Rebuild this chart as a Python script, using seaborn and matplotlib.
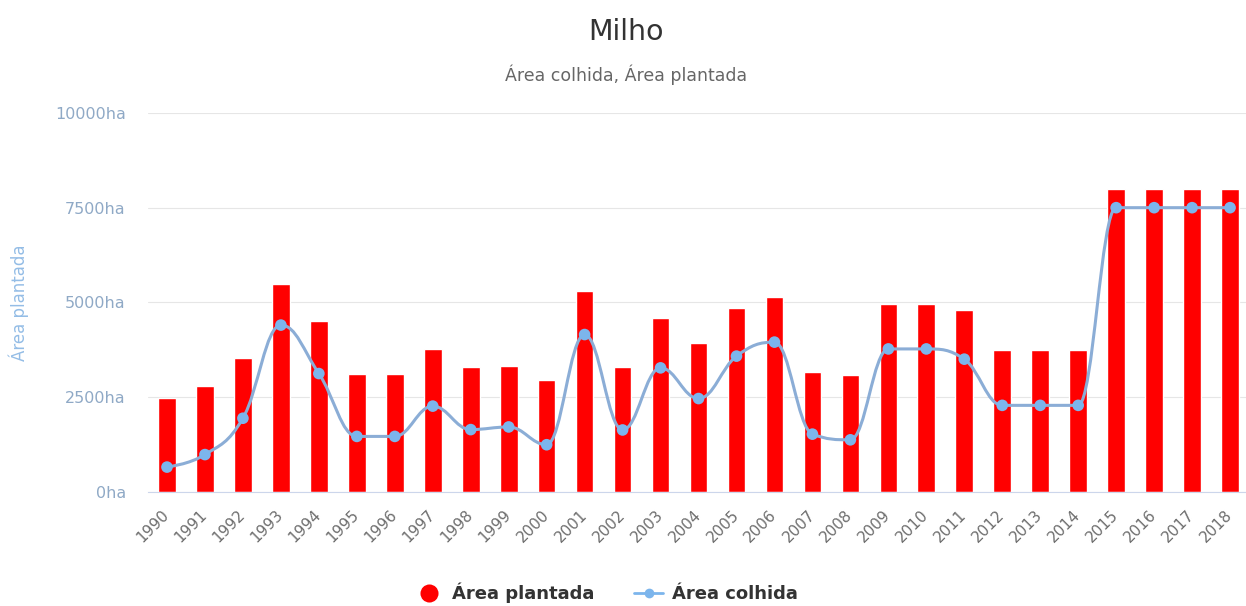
import numpy as np
import pandas as pd
import matplotlib
matplotlib.use("Agg")
import matplotlib.pyplot as plt
from matplotlib.path import Path
from matplotlib.patches import PathPatch
from matplotlib.lines import Line2D
import seaborn as sns

# dados
anos = [str(a) for a in range(1990, 2019)]
area_plantada = [2480, 2780, 3520, 5480, 4500, 3120, 3120, 3760, 3300, 3330,
                 2950, 5300, 3300, 4580, 3930, 4840, 5130, 3160, 3080, 4960,
                 4960, 4790, 3750, 3750, 3750, 8000, 8000, 8000, 8000]
area_colhida = [650, 980, 1940, 4400, 3120, 1460, 1460, 2260, 1640, 1710,
                1240, 4150, 1630, 3270, 2460, 3580, 3950, 1520, 1370, 3770,
                3770, 3500, 2280, 2280, 2280, 7500, 7500, 7500, 7500]
ticks_y = [0, 2500, 5000, 7500, 10000]

titulo = "Milho"
subtitulo = "Área colhida, Área plantada"

COR_BARRA = "#ff0000"
COR_LINHA = "#8badd6"
COR_PONTO = "#7cb5ec"


def spline_path(xs, ys, smoothing=1.5):
    """Curva suave tipo 'spline' (Bezier cúbica) passando pelos pontos."""
    n = len(xs)
    denom = smoothing + 1
    left = [(xs[i], ys[i]) for i in range(n)]
    right = [(xs[i], ys[i]) for i in range(n)]
    for i in range(1, n - 1):
        px, py = xs[i], ys[i]
        lx, ly = xs[i - 1], ys[i - 1]
        nx, ny = xs[i + 1], ys[i + 1]
        lcx = (smoothing * px + lx) / denom
        lcy = (smoothing * py + ly) / denom
        rcx = (smoothing * px + nx) / denom
        rcy = (smoothing * py + ny) / denom
        if rcx != lcx:
            corr = ((rcy - lcy) * (rcx - px)) / (rcx - lcx) + py - rcy
            lcy += corr
            rcy += corr
        if lcy > ly and lcy > py:
            lcy = max(ly, py)
            rcy = 2 * py - lcy
        elif lcy < ly and lcy < py:
            lcy = min(ly, py)
            rcy = 2 * py - lcy
        if rcy > ny and rcy > py:
            rcy = max(ny, py)
            lcy = 2 * py - rcy
        elif rcy < ny and rcy < py:
            rcy = min(ny, py)
            lcy = 2 * py - rcy
        left[i] = (lcx, lcy)
        right[i] = (rcx, rcy)
    verts = [(xs[0], ys[0])]
    codes = [Path.MOVETO]
    for i in range(1, n):
        verts += [right[i - 1], left[i], (xs[i], ys[i])]
        codes += [Path.CURVE4] * 3
    return Path(verts, codes)


df = pd.DataFrame({"ano": anos, "plantada": area_plantada, "colhida": area_colhida})

sns.set_style("white")
plt.rcParams["font.family"] = ["DejaVu Sans"]

fig = plt.figure(figsize=(12.46, 6.06), dpi=100)
W, H = 1246, 606
ax = fig.add_axes([148 / W, (H - 491.7) / H, 1098 / W, (491.7 - 113) / H])

sns.barplot(data=df, x="ano", y="plantada", color=COR_BARRA, saturation=1,
            width=0.466, ax=ax, zorder=2)

pos = np.arange(len(anos))
ax.add_patch(PathPatch(spline_path(pos, area_colhida), fill=False,
                       edgecolor=COR_LINHA, linewidth=2.2, zorder=3,
                       capstyle="round", joinstyle="round"))
sns.scatterplot(data=df, x="ano", y="colhida", color=COR_PONTO, s=70,
                edgecolor="none", ax=ax, zorder=4)

ax.set_xlim(-0.5, 28.42)
ax.set_ylim(0, 10000)
ax.set_yticks(ticks_y)
ax.set_yticklabels([f"{v}ha" for v in ticks_y])
ax.yaxis.grid(True, color="#e6e6e6", linewidth=0.8, zorder=0)
ax.set_axisbelow(True)
for s in ["top", "right", "left"]:
    ax.spines[s].set_visible(False)
ax.spines["bottom"].set_color("#ccd6eb")
ax.spines["bottom"].set_linewidth(0.8)

ax.tick_params(axis="y", length=0, pad=16, labelsize=11.5, labelcolor="#8fa9c6")
ax.tick_params(axis="x", length=0, pad=15, labelsize=11, labelcolor="#6e6e6e")
for lab in ax.get_xticklabels():
    lab.set_rotation(45)
    lab.set_ha("right")
    lab.set_va("center")
    lab.set_rotation_mode("anchor")

ax.set_xlabel("")
ax.set_ylabel("Área plantada", fontsize=12, color="#94bde6")
ax.yaxis.set_label_coords(-0.108, 0.5)

fig.text(626 / W, 1 - 32 / H, titulo, ha="center", va="center",
         fontsize=20.5, color="#333333")
fig.text(626 / W, 1 - 75 / H, subtitulo, ha="center", va="center",
         fontsize=12.5, color="#666666")

handles = [
    Line2D([], [], linestyle="none", marker="o", markersize=13,
           markerfacecolor=COR_BARRA, markeredgecolor="none"),
    Line2D([], [], color=COR_PONTO, linewidth=2, marker="o", markersize=7,
           markerfacecolor=COR_PONTO, markeredgecolor="none"),
]
fig.legend(handles, ["Área plantada", "Área colhida"], loc="center",
           bbox_to_anchor=(606 / W, 1 - 593 / H), ncol=2, frameon=False,
           prop={"weight": "bold", "size": 13}, labelcolor="#333333",
           handlelength=1.6, handletextpad=0.5, columnspacing=2.2)

fig.savefig("out.png", dpi=100)
